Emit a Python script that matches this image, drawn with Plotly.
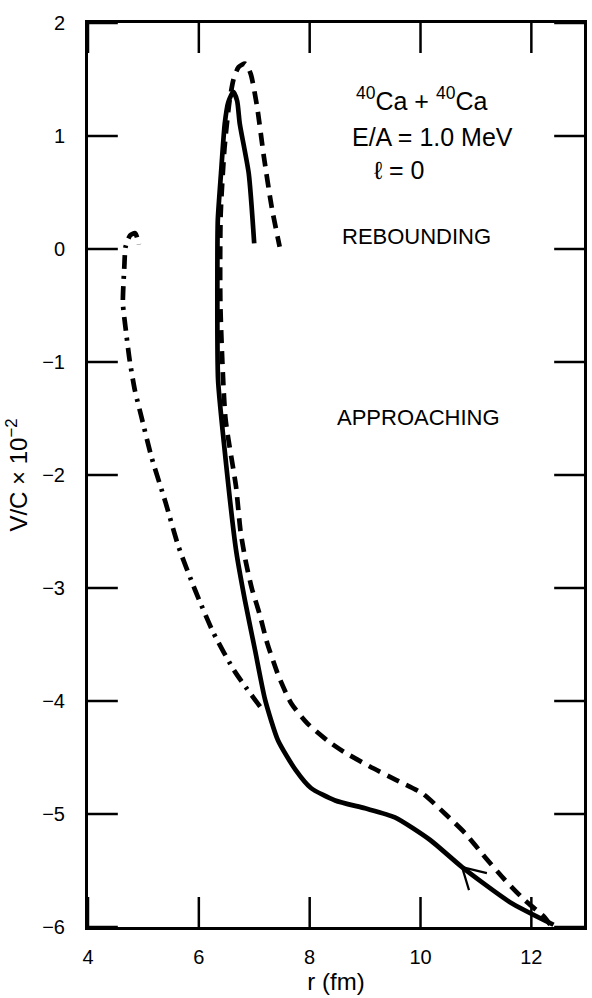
import plotly.graph_objects as go

# ---- data ----
solid_r = [12.40, 11.61, 10.74, 10.16, 9.52, 8.98, 8.44, 8.00, 7.72, 7.40, 7.16, 6.97, 6.78, 6.61,
           6.39, 6.26, 6.23, 6.23, 6.28, 6.34, 6.40, 6.49, 6.56, 6.61, 6.78, 6.89]
solid_v = [-5.98, -5.78, -5.47, -5.23, -5.03, -4.95, -4.88, -4.77, -4.61, -4.35, -3.99, -3.55, -3.11, -2.66,
           -1.78, -1.16, -0.19, 0.26, 0.67, 1.11, 1.30, 1.39, 1.31, 1.11, 0.67, 0.05]

dashed_r = [12.34, 12.23, 11.87, 11.51, 11.15, 10.79, 10.43, 10.02, 9.54, 9.06, 8.59, 8.29, 7.93, 7.63,
            7.40, 7.19, 7.04, 6.90, 6.79, 6.69, 6.60, 6.40, 6.29, 6.28, 6.34, 6.42, 6.49, 6.58, 6.70,
            6.80, 6.92, 7.05, 7.20, 7.35]
dashed_v = [-5.98, -5.91, -5.76, -5.58, -5.38, -5.17, -5.00, -4.82, -4.70, -4.58, -4.45, -4.35, -4.20, -4.02,
            -3.78, -3.49, -3.22, -3.00, -2.77, -2.50, -2.10, -1.50, -0.50, 0.30, 0.90, 1.30, 1.50, 1.61, 1.64,
            1.55, 1.26, 0.82, 0.37, 0.02]

dashdot_r = [7.07, 6.61, 6.22, 5.88, 5.57, 5.33, 5.07, 4.88, 4.76, 4.66, 4.58, 4.53, 4.55, 4.57,
             4.65, 4.74, 4.81]
dashdot_v = [-4.05, -3.74, -3.40, -3.02, -2.63, -2.24, -1.84, -1.48, -1.25, -0.98, -0.69, -0.48, -0.16, 0.02,
             0.12, 0.14, 0.04]

x_ticks = [4, 6, 8, 10, 12]
y_ticks = [-6, -5, -4, -3, -2, -1, 0, 1, 2]

X_RANGE = [4, 12.95]
Y_RANGE = [-6, 2]

W, H = 592, 998
ML, MR, MT, MB = 88, 5, 23, 71
TICK_LEN = 30

# the scanned original leans slightly: curves higher up sit a little further right
LEAN = 0.018


def lean(rs, vs):
    return [r + (v - Y_RANGE[0]) * LEAN for r, v in zip(rs, vs)]


FONT = "Liberation Sans, Arial, Helvetica, sans-serif"

px_per_x = (W - ML - MR) / (X_RANGE[1] - X_RANGE[0])
px_per_y = (H - MT - MB) / (Y_RANGE[1] - Y_RANGE[0])

fig = go.Figure()

line_common = dict(color="black", width=4.7, shape="spline", smoothing=0.6)

fig.add_trace(go.Scatter(x=lean(solid_r, solid_v), y=solid_v, mode="lines",
                         line=dict(**line_common), showlegend=False, hoverinfo="skip"))
fig.add_trace(go.Scatter(x=lean(dashed_r, dashed_v), y=dashed_v, mode="lines",
                         line=dict(**line_common, dash="13px,8px"), showlegend=False, hoverinfo="skip"))
fig.add_trace(go.Scatter(x=lean(dashdot_r, dashdot_v), y=dashdot_v, mode="lines",
                         line=dict(**line_common, dash="14px,7px,3px,7px"), showlegend=False, hoverinfo="skip"))

# open arrowhead on the approaching (solid) curve, placed at one of its points
tip_x = lean(solid_r, solid_v)[2]
tip_y = solid_v[2]
barb1 = (tip_x + 25 / px_per_x, tip_y - 6 / px_per_y)
barb2 = (tip_x + 7 / px_per_x, tip_y - 23 / px_per_y)
fig.add_trace(go.Scatter(x=[barb1[0], tip_x, barb2[0]], y=[barb1[1], tip_y, barb2[1]], mode="lines",
                         line=dict(color="black", width=2.2), showlegend=False, hoverinfo="skip"))

axis_common = dict(showline=True, linecolor="black", linewidth=3, mirror=True,
                   ticks="", showgrid=False, zeroline=False,
                   tickfont=dict(family=FONT, size=20, color="black"))

fig.update_xaxes(range=X_RANGE, tickvals=x_ticks, ticklabelstandoff=10,
                 title=dict(text="r (fm)", font=dict(family=FONT, size=24, color="black"), standoff=0),
                 **axis_common)
fig.update_yaxes(range=Y_RANGE, tickvals=y_ticks, ticklabelstandoff=16,
                 title=dict(text="V/C × 10<sup>−2</sup>", font=dict(family=FONT, size=24, color="black"),
                            standoff=8),
                 **axis_common)

# inward tick marks on all four sides, placed through the axis scales
dx = TICK_LEN / px_per_x
dy = TICK_LEN / px_per_y
tick_line = dict(color="black", width=2.5)
for t in x_ticks:
    fig.add_shape(type="line", xref="x", yref="y", x0=t, x1=t, y0=Y_RANGE[0], y1=Y_RANGE[0] + dy,
                  line=tick_line, layer="above")
    fig.add_shape(type="line", xref="x", yref="y", x0=t, x1=t, y0=Y_RANGE[1], y1=Y_RANGE[1] - dy,
                  line=tick_line, layer="above")
for t in y_ticks:
    fig.add_shape(type="line", xref="x", yref="y", y0=t, y1=t, x0=X_RANGE[0], x1=X_RANGE[0] + dx,
                  line=tick_line, layer="above")
    fig.add_shape(type="line", xref="x", yref="y", y0=t, y1=t, x0=X_RANGE[1], x1=X_RANGE[1] - dx,
                  line=tick_line, layer="above")

big = dict(family=FONT, size=25, color="black")
fig.add_annotation(x=10.01, y=1.33, text="<sup>40</sup>Ca + <sup>40</sup>Ca", showarrow=False, font=big)
fig.add_annotation(x=10.21, y=0.99, text="E/A = 1.0 MeV", showarrow=False, font=big)
fig.add_annotation(x=9.61, y=0.70, text="ℓ = 0", showarrow=False, font=big)
fig.add_annotation(x=9.92, y=0.115, text="REBOUNDING", showarrow=False,
                   font=dict(family=FONT, size=22, color="black"))
fig.add_annotation(x=9.96, y=-1.49, text="APPROACHING", showarrow=False,
                   font=dict(family=FONT, size=22, color="black"))

fig.update_layout(width=W, height=H, margin=dict(l=ML, r=MR, t=MT, b=MB),
                  paper_bgcolor="white", plot_bgcolor="white")

fig.write_html("out.html")
